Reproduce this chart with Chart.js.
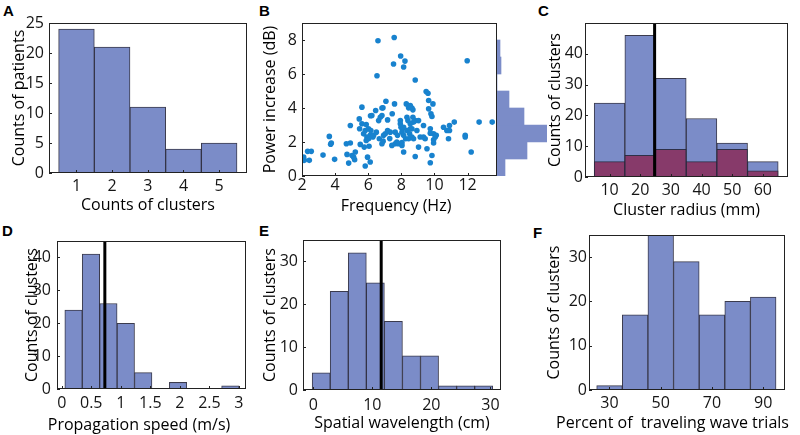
<!DOCTYPE html>
<html><head><meta charset="utf-8">
<script src="https://cdn.jsdelivr.net/npm/chart.js@4.4.0/dist/chart.umd.min.js"></script>
<style>
body{margin:0;background:#fff;width:800px;height:435px;overflow:hidden;position:relative;font-family:"Open Sans",sans-serif}
canvas{position:absolute}
.lbl{position:absolute;font:bold 15px "Liberation Sans",Arial,sans-serif;color:#000;line-height:17px}
</style></head><body>
<div class="lbl" style="left:3px;top:2px">A</div>
<div class="lbl" style="left:259px;top:2px">B</div>
<div class="lbl" style="left:538px;top:2px">C</div>
<div class="lbl" style="left:2px;top:222px">D</div>
<div class="lbl" style="left:259px;top:222px">E</div>
<div class="lbl" style="left:533px;top:224px">F</div>
<script>
// ---------- data ----------
// A
const aCenters = [1, 2, 3, 4, 5];
const aCounts = [24, 21, 11, 4, 5];
const aXTicks = [1, 2, 3, 4, 5];
const aYTicks = [0, 5, 10, 15, 20, 25];
// B scatter
const bFreq = [2.14,2.44,3.97,4.82,5.18,5.82,6.12,9.75,
 2.1,2.34,2.56,3.27,3.77,3.73,4.68,4.72,4.92,5.02,5.12,5.22,5.52,5.76,5.96,6.83,7.43,7.63,7.73,7.83,8.04,8.14,8.04,9.04,9.55,9.95,8.84,9.85,12.22,6.05,
 3.65,4.92,5.48,5.72,5.82,5.92,5.88,6.02,6.12,6.02,6.16,6.28,6.33,6.49,6.67,6.93,7.03,7.17,7.33,7.63,7.77,7.98,8.26,8.34,9.34,10.55,10.75,10.91,8.14,8.54,8.64,8.94,8.04,8.5,8.14,8.64,8.44,8.74,9.14,9.34,9.44,9.75,9.75,9.95,10.11,9.95,10.05,10.85,11.86,11.86,10.91,6.9,7.3,
 5.62,5.88,6.22,6.45,6.63,6.73,6.83,7.17,7.45,7.94,8.34,8.4,9.85,9.79,8.7,8.7,8.84,9.04,8.74,11.2,12.7,13.49,5.46,6.14,9.65,7.94,8.54,
 5.62,6.89,7.07,7.59,8.3,8.44,8.54,8.64,9.5,9.61,9.65,9.91,6.83,
 6.53,8.84,7.53,8.14,8.22,11.98,6.59,7.96,7.57];
const bPower = [0.92,0.92,0.98,0.76,0.96,0.59,0.82,0.78,
 1.11,1.45,1.45,1.23,1.94,1.87,1.9,1.27,1.94,1.21,1.11,1.41,1.86,1.70,1.11,1.9,1.80,1.9,1.99,1.9,1.80,1.41,1.97,1.7,1.6,1.94,1.15,1.21,1.41,1.75,
 2.33,2.97,2.78,2.48,2.68,2.29,2.09,2.78,2.39,2.19,2.68,2.29,2.39,2.58,2.19,2.39,2.48,2.68,2.58,2.58,2.39,2.87,2.19,2.68,2.97,2.87,2.68,2.97,2.87,2.78,2.78,2.68,2.58,2.48,2.39,2.29,2.19,2.19,2.29,2.29,2.19,2.78,2.52,2.48,2.39,2.13,2.29,2.19,2.39,2.29,2.68,2.05,2.2,
 3.07,3.03,3.56,3.85,3.26,3.46,3.56,3.30,3.66,3.26,3.46,3.26,3.5,3.66,3.89,3.46,3.26,3.26,3.17,3.17,3.17,3.17,3.36,3.54,3.95,3.07,3.07,
 4.05,4.01,4.40,4.24,4.24,4.01,4.14,4.0,4.97,4.87,4.44,4.24,4.0,
 5.9,5.65,6.59,6.41,6.76,6.78,7.96,7.06,8.15];
const bXTicks = [2, 4, 6, 8, 10, 12];
const bYTicks = [0, 2, 4, 6, 8];
// B side histogram of power
const bHistCenters = [0.5, 1.5, 2.5, 3.5, 4.5, 5.5, 6.5, 7.5];
const bHistCounts = [8, 30, 50, 27, 12, 0, 4, 3];
// C
const cCenters = [10, 20, 30, 40, 50, 60];
const cAll = [24, 46, 32, 19, 11, 5];
const cSub = [5, 7, 9, 5, 9, 2];
const cMedian = 24.7;
const cXTicks = [10, 20, 30, 40, 50, 60];
const cYTicks = [0, 10, 20, 30, 40];
// D
const dCenters = [0.2, 0.495, 0.79, 1.085, 1.38, 1.675, 1.97, 2.265, 2.56, 2.855];
const dCounts = [24, 41, 26, 20, 5, 0, 2, 0, 0, 1];
const dMedian = 0.73;
const dXTicks = [0, 0.5, 1, 1.5, 2, 2.5, 3];
const dYTicks = [0, 10, 20, 30, 40];
// E
const eCenters = [1.33, 4.39, 7.45, 10.51, 13.57, 16.63, 19.69, 22.75, 25.81, 28.87];
const eCounts = [4, 23, 32, 25, 16, 8, 8, 1, 1, 1];
const eMedian = 11.5;
const eXTicks = [0, 10, 20, 30];
const eYTicks = [0, 10, 20, 30];
// F
const fCenters = [30, 40, 50, 60, 70, 80, 90];
const fCounts = [1, 17, 35, 29, 17, 20, 21];
const fXTicks = [30, 50, 70, 90];
const fYTicks = [0, 10, 20, 30];

// ---------- styles ----------
const BLUE = '#7b8cc8', EDGE = 'rgba(38,38,58,0.9)', RED = '#873a6a', DOT = '#1882ce';
const FAMILY = '"Open Sans"';
const TICK_FONT = {family: FAMILY, size: 16};
const TITLE_FONT = {family: FAMILY, size: 16};

const boxPlugin = {
  id: 'frame',
  afterDatasetsDraw(chart) {
    const {ctx, chartArea: a, scales: {x, y}} = chart;
    ctx.save();
    ctx.strokeStyle = '#222'; ctx.lineWidth = 1;
    ctx.beginPath();
    x.ticks.forEach(t => { const p = Math.round(x.getPixelForValue(t.value)) + 0.5; ctx.moveTo(p, a.bottom); ctx.lineTo(p, a.bottom - 3); });
    y.ticks.forEach(t => { const p = Math.round(y.getPixelForValue(t.value)) + 0.5; ctx.moveTo(a.left, p); ctx.lineTo(a.left + 3, p); });
    ctx.stroke();
    ctx.strokeRect(a.left + 0.5, a.top + 0.5, a.width - 1, a.height - 1);
    ctx.restore();
  }
};
const xTitlePlugin = {
  id: 'xt',
  afterDraw(chart, args, o) {
    if (!o || !o.text) return;
    const ctx = chart.ctx;
    ctx.save();
    ctx.font = TITLE_FONT.size + 'px ' + FAMILY;
    ctx.fillStyle = '#000'; ctx.textAlign = 'center'; ctx.textBaseline = 'middle';
    ctx.fillText(o.text, o.cx, o.cy);
    ctx.restore();
  }
};

function axis(min, max, ticks, title, pad) {
  return {
    type: 'linear', min, max, offset: false,
    afterBuildTicks: s => { s.ticks = ticks.map(v => ({value: v})); },
    grid: {display: false, drawTicks: false},
    border: {display: false},
    ticks: {font: TICK_FONT, color: '#151515', padding: pad, maxRotation: 0, autoSkip: false, callback: v => String(v)},
    title: {display: !!title, text: title || '', font: TITLE_FONT, color: '#000', padding: 0}
  };
}

// box: plot area [left, top, right, bottom] in page pixels
function panel(box, yTitleX, xTitle, xTitleY, xTitleCX, cfg, extraRight) {
  const h = TITLE_FONT.size * 1.2 / 2;
  const cl = Math.round(yTitleX - h), ct = box[1] - 12, cr = box[2] + (extraRight || 4), cb = Math.round(xTitleY + h);
  const cv = document.createElement('canvas');
  cv.width = cr - cl; cv.height = cb - ct;
  cv.style.left = cl + 'px'; cv.style.top = ct + 'px';
  document.body.appendChild(cv);
  const yW = box[0] - cl, xH = cb - box[3];
  const o = cfg.options;
  o.responsive = false; o.animation = false;
  o.layout = {padding: {top: box[1] - ct, right: cr - box[2], left: 0, bottom: 0}};
  const cx = (xTitleCX == null ? (box[0] + box[2]) / 2 : xTitleCX) - cl;
  o.plugins = {legend: {display: false}, tooltip: {enabled: false}, xt: {text: xTitle, cx: cx, cy: xTitleY - ct}};
  o.scales.x.afterFit = s => { s.height = xH; s.paddingLeft = s.paddingRight = 0; s.paddingTop = s.paddingBottom = 0; };
  o.scales.y.afterFit = s => { s.width = yW; s.paddingTop = s.paddingBottom = 0; s.paddingLeft = s.paddingRight = 0; };
  cfg.plugins = [boxPlugin, xTitlePlugin];
  return new Chart(cv, cfg);
}

function bars(centers, counts, color, order) {
  return {type: 'bar', data: centers.map((c, i) => ({x: c, y: counts[i]})), backgroundColor: color,
    borderColor: EDGE, borderWidth: 1, borderSkipped: 'start', barPercentage: 1, categoryPercentage: 1, grouped: false, order: order};
}
function vline(v, top) {
  return {type: 'line', data: [{x: v, y: 0}, {x: v, y: top}], borderColor: '#000', borderWidth: 3, pointRadius: 0, order: -1};
}

// A
panel([49, 23, 247, 173], 20, 'Counts of clusters', 205, null, {
  type: 'bar',
  data: {datasets: [bars(aCenters, aCounts, BLUE, 1)]},
  options: {scales: {x: axis(0.23, 5.78, aXTicks, null, 4), y: axis(0, 25, aYTicks, 'Counts of patients', 5)}}
});

// B scatter
panel([302, 23, 497, 176], 271, 'Frequency (Hz)', 206, 396, {
  type: 'scatter',
  data: {datasets: [{data: bFreq.map((f, i) => ({x: f, y: bPower[i]})), backgroundColor: DOT, borderWidth: 0, pointRadius: 2.8}]},
  options: {scales: {x: axis(2, 13.78, bXTicks, null, 0), y: axis(0, 9, bYTicks, 'Power increase (dB)', 5)}}
});

// B side histogram
(function () {
  const cv = document.createElement('canvas');
  cv.width = 50; cv.height = 153; cv.style.left = '497px'; cv.style.top = '23px';
  document.body.appendChild(cv);
  new Chart(cv, {
    type: 'bar',
    data: {datasets: [{data: bHistCenters.map((c, i) => ({x: bHistCounts[i], y: c})), backgroundColor: BLUE, borderWidth: 0, barPercentage: 1, categoryPercentage: 1}]},
    options: {indexAxis: 'y', responsive: false, animation: false, layout: {padding: 0},
      plugins: {legend: {display: false}, tooltip: {enabled: false}},
      scales: {x: {type: 'linear', min: 0, max: 50, display: false}, y: {type: 'linear', min: 0, max: 9, display: false, offset: false}}}
  });
})();

// C
panel([585, 23, 788, 177], 556, 'Cluster radius (mm)', 210, null, {
  type: 'bar',
  data: {datasets: [bars(cCenters, cAll, BLUE, 2), bars(cCenters, cSub, RED, 1), vline(cMedian, 50)]},
  options: {scales: {x: axis(2, 68.2, cXTicks, null, 4), y: axis(0, 50, cYTicks, 'Counts of clusters', 2)}}
});

// D
panel([57, 241, 246, 389], 33, 'Propagation speed (m/s)', 425, 139, {
  type: 'bar',
  data: {datasets: [bars(dCenters, dCounts, BLUE, 1), vline(dMedian, 45)]},
  options: {scales: {x: axis(-0.08, 3.12, dXTicks, null, 5), y: axis(0, 45, dYTicks, 'Counts of clusters', 6)}}
});

// E
panel([303, 240, 501, 390], 271, 'Spatial wavelength (cm)', 423, null, {
  type: 'bar',
  data: {datasets: [bars(eCenters, eCounts, BLUE, 1), vline(eMedian, 35)]},
  options: {scales: {x: axis(-1.75, 31.8, eXTicks, null, 6), y: axis(0, 35, eYTicks, 'Counts of clusters', 5)}}
});

// F
panel([589, 235, 785, 390], 555, 'Percent of  traveling wave trials', 423, 672.5, {
  type: 'bar',
  data: {datasets: [bars(fCenters, fCounts, BLUE, 1)]},
  options: {scales: {x: axis(22, 98.5, fXTicks, null, 4), y: axis(0, 35, fYTicks, 'Counts of clusters', 2)}}
}, 15);
</script>
</body></html>
